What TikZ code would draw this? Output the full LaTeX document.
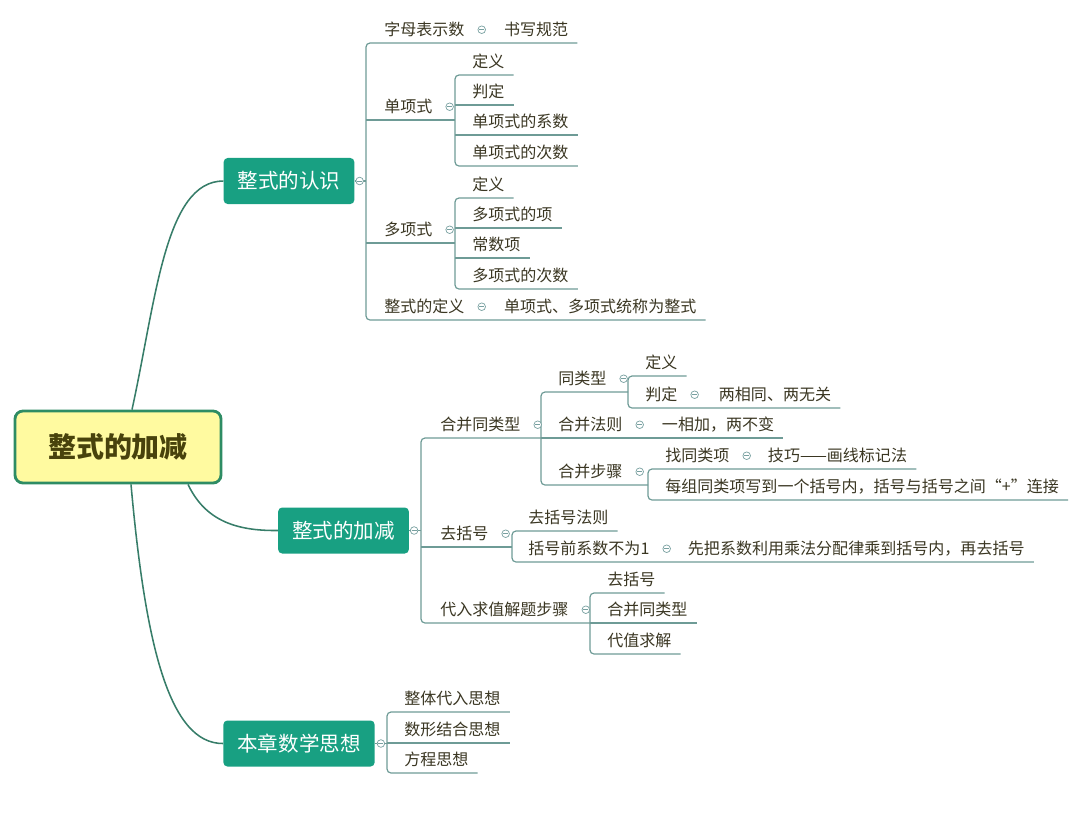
\documentclass[tikz,border=0pt]{standalone}
\usepackage{fontspec}
\newfontfamily\cjk{Noto Sans CJK SC}
\usetikzlibrary{calc}
\definecolor{topicfill}{RGB}{24,160,130}
\definecolor{rootfill}{RGB}{255,250,160}
\definecolor{rootdraw}{RGB}{46,140,100}
\definecolor{roottext}{RGB}{72,66,12}
\definecolor{leaftext}{RGB}{58,54,34}
\definecolor{branch}{RGB}{55,125,105}
\definecolor{logic}{RGB}{110,155,150}
\definecolor{foldc}{RGB}{120,160,160}

\begin{document}
\begin{tikzpicture}[
  x=0.025cm, y=-0.025cm,
  root/.style={draw=rootdraw, fill=rootfill, line width=2pt, rounded corners=0.2cm,
               minimum width=5.15cm, minimum height=1.8cm, text=roottext,
               font=\cjk\bfseries\fontsize{19.9}{23}\selectfont},
  topic/.style={fill=topicfill, rounded corners=0.1cm, text=white, inner xsep=0.35cm,
                minimum height=1.15cm, font=\cjk\fontsize{14.6}{17}\selectfont},
  leaf/.style={anchor=south west, inner sep=0pt, text height=0.35cm, text depth=0.175cm,
               text=leaftext, font=\cjk\fontsize{11.4}{13}\selectfont},
  fold/.style={circle, draw=foldc, fill=white, line width=0.5pt, inner sep=0pt,
               minimum size=0.19cm,
               path picture={\draw[foldc, line width=0.4pt]
                 ([xshift=-0.06cm]path picture bounding box.center) --
                 ([xshift=0.06cm]path picture bounding box.center);}},
  curve/.style={draw=branch, line width=1.1pt},
  ln/.style={draw=logic, line width=0.85pt},
  elbow/.style={ln, rounded corners=0.1cm},
]
\useasboundingbox (0,0) rectangle (1080,823);

% central topic and main topics
\node[root] (root) at (118,447) {整式的加减};
\node[topic] (A) at (289,181) {整式的认识};
\node[topic] (B) at (343.5,530.5) {整式的加减};
\node[topic] (C) at (299,743.5) {本章数学思想};

\draw[curve] ($(root.north)+(14,0)$) .. controls (156,300) and (165,181) .. (A.west);
\draw[curve] ($(root.south)+(70,0)$) .. controls (205,520) and (235,531) .. (B.west);
\draw[curve] ($(root.south)+(13,0)$) .. controls (145,640) and (168,744) .. (C.west);

% 整式的认识
\coordinate (vA) at (366,0);
\coordinate (vB) at (455,0);
\coordinate (vC) at (455,0);
\node[leaf] (a1) at (384,43) {字母表示数};
\node[leaf, anchor=base west] (a1n) at ($(a1.base east)+(39,0)$) {书写规范};
\node[leaf] (a2) at (384,120) {单项式};
\node[leaf] (b1) at (472,75) {定义};
\node[leaf] (b2) at (472,105) {判定};
\node[leaf] (b3) at (472,135) {单项式的系数};
\node[leaf] (b4) at (472,166) {单项式的次数};
\node[leaf] (a3) at (384,243) {多项式};
\node[leaf] (c1) at (472,198) {定义};
\node[leaf] (c2) at (472,228) {多项式的项};
\node[leaf] (c3) at (472,258) {常数项};
\node[leaf] (c4) at (472,289) {多项式的次数};
\node[leaf] (a4) at (384,320) {整式的定义};
\node[leaf, anchor=base west] (a4n) at ($(a4.base east)+(39,0)$) {单项式、多项式统称为整式};

\draw[ln] (A.east) -- (vA |- A.east);
\draw[elbow] ($(a1n.south east)+(9,0)$) -- (vA |- a1.south) -- (vA |- a4.south) -- ($(a4n.south east)+(9,0)$);
\draw[ln] (vA |- a2.south) -- (vB |- a2.south);
\draw[ln] (vA |- a3.south) -- (vC |- a3.south);
\draw[elbow] ($(b1.south east)+(9,0)$) -- (vB |- b1.south) -- (vB |- b4.south) -- ($(b4.south east)+(9,0)$);
\draw[ln] (vB |- b2.south) -- ($(b2.south east)+(9,0)$);
\draw[ln] (vB |- b3.south) -- ($(b3.south east)+(9,0)$);
\draw[elbow] ($(c1.south east)+(9,0)$) -- (vC |- c1.south) -- (vC |- c4.south) -- ($(c4.south east)+(9,0)$);
\draw[ln] (vC |- c2.south) -- ($(c2.south east)+(9,0)$);
\draw[ln] (vC |- c3.south) -- ($(c3.south east)+(9,0)$);

% 整式的加减
\coordinate (vD) at (421,0);
\coordinate (vE) at (541,0);
\coordinate (vF) at (628,0);
\coordinate (vG) at (648,0);
\coordinate (vH) at (512,0);
\coordinate (vI) at (590,0);
\node[leaf] (d1) at (440,438) {合并同类型};
\node[leaf] (e1) at (558,392) {同类型};
\node[leaf] (f1) at (645,376) {定义};
\node[leaf] (f2) at (645,408) {判定};
\node[leaf, anchor=base west] (f2n) at ($(f2.base east)+(41,0)$) {两相同、两无关};
\node[leaf] (e2) at (558,438) {合并法则};
\node[leaf, anchor=base west] (e2n) at ($(e2.base east)+(39,0)$) {一相加，两不变};
\node[leaf] (e3) at (558,485) {合并步骤};
\node[leaf] (g1) at (665,469) {找同类项};
\node[leaf, anchor=base west] (g1n) at ($(g1.base east)+(38,0)$) {技巧——画线标记法};
\node[leaf] (g2) at (665,500) {每组同类项写到一个括号内，括号与括号之间“+”连接};
\node[leaf] (d2) at (440,547) {去括号};
\node[leaf] (h1) at (528,531) {去括号法则};
\node[leaf] (h2) at (528,562) {括号前系数不为1};
\node[leaf, anchor=base west] (h2n) at ($(h2.base east)+(38,0)$) {先把系数利用乘法分配律乘到括号内，再去括号};
\node[leaf] (d3) at (440,623) {代入求值解题步骤};
\node[leaf] (i1) at (607,593) {去括号};
\node[leaf] (i2) at (607,623) {合并同类型};
\node[leaf] (i3) at (607,654) {代值求解};

\draw[ln] (B.east) -- (vD |- B.east);
\draw[elbow] (vE |- d1.south) -- (vD |- d1.south) -- (vD |- d3.south) -- (vI |- d3.south);
\draw[ln] (vD |- d2.south) -- (vH |- d2.south);
\draw[elbow] (vF |- e1.south) -- (vE |- e1.south) -- (vE |- e3.south) -- (vG |- e3.south);
\draw[ln] (vE |- e2.south) -- ($(e2n.south east)+(9,0)$);
\draw[elbow] ($(f1.south east)+(9,0)$) -- (vF |- f1.south) -- (vF |- f2.south) -- ($(f2n.south east)+(9,0)$);
\draw[elbow] ($(g1n.south east)+(9,0)$) -- (vG |- g1.south) -- (vG |- g2.south) -- ($(g2.south east)+(9,0)$);
\draw[elbow] ($(h1.south east)+(9,0)$) -- (vH |- h1.south) -- (vH |- h2.south) -- ($(h2n.south east)+(9,0)$);
\draw[elbow] ($(i1.south east)+(9,0)$) -- (vI |- i1.south) -- (vI |- i3.south) -- ($(i3.south east)+(9,0)$);
\draw[ln] (vI |- i2.south) -- ($(i2.south east)+(9,0)$);

% 本章数学思想
\coordinate (vJ) at (387,0);
\node[leaf] (j1) at (404,712) {整体代入思想};
\node[leaf] (j2) at (404,743) {数形结合思想};
\node[leaf] (j3) at (404,773) {方程思想};

\draw[ln] (C.east) -- (vJ |- C.east);
\draw[elbow] ($(j1.south east)+(9,0)$) -- (vJ |- j1.south) -- (vJ |- j3.south) -- ($(j3.south east)+(9,0)$);
\draw[ln] (vJ |- j2.south) -- ($(j2.south east)+(9,0)$);

% fold markers
\node[fold] (fA) at ($(A.east)+(5,0)$) {};
\node[fold] (fB) at ($(B.east)+(5,0)$) {};
\node[fold] (fC) at ($(C.east)+(6,0)$) {};
\node[fold] (fa1) at ($(a1.base east)+(17,-6)$) {};
\node[fold] (fa2) at ($(a2.base east)+(17,-6)$) {};
\node[fold] (fa3) at ($(a3.base east)+(17,-6)$) {};
\node[fold] (fa4) at ($(a4.base east)+(17,-6)$) {};
\node[fold] (fd1) at ($(d1.base east)+(17,-6)$) {};
\node[fold] (fd2) at ($(d2.base east)+(17,-6)$) {};
\node[fold] (fd3) at ($(d3.base east)+(17,-6)$) {};
\node[fold] (fe1) at ($(e1.base east)+(17,-6)$) {};
\node[fold] (fe2) at ($(e2.base east)+(17,-6)$) {};
\node[fold] (fe3) at ($(e3.base east)+(17,-6)$) {};
\node[fold] (ff2) at ($(f2.base east)+(17,-6)$) {};
\node[fold] (fg1) at ($(g1.base east)+(17,-6)$) {};
\node[fold] (fh2) at ($(h2.base east)+(17,-6)$) {};
\end{tikzpicture}
\end{document}
